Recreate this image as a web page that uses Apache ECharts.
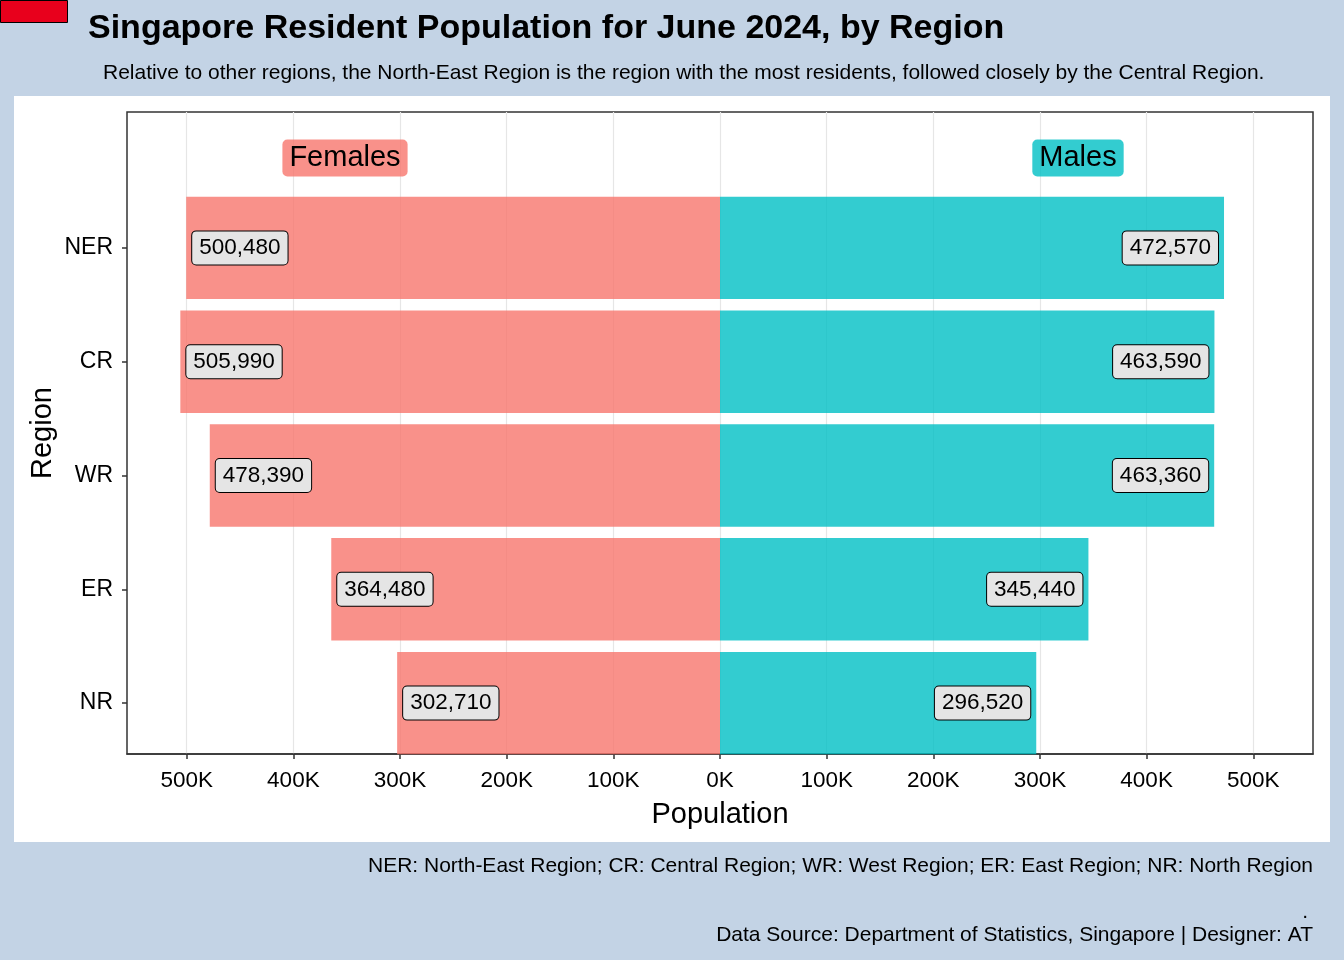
<!DOCTYPE html>
<html>
<head>
<meta charset="utf-8">
<title>Singapore Resident Population for June 2024, by Region</title>
<script src="https://cdn.jsdelivr.net/npm/echarts@6/dist/echarts.min.js"></script>
<style>
  html, body { margin: 0; padding: 0; background: #C3D3E5; }
  #chart { width: 1344px; height: 960px; }
</style>
</head>
<body>
<div id="chart"></div>
<script>
  // data
  var regions = ['NER', 'CR', 'WR', 'ER', 'NR'];
  var females = [500480, 505990, 478390, 364480, 302710];
  var males = [472570, 463590, 463360, 345440, 296520];
  var tickValues = [-500000, -400000, -300000, -200000, -100000, 0, 100000, 200000, 300000, 400000, 500000];

  var FONT = '"Liberation Sans", Arial, sans-serif';
  var femaleColor = 'rgba(248,118,109,0.8)';
  var maleColor = 'rgba(0,191,196,0.8)';

  function fmtK(v) {
    return Math.abs(v) / 1000 + 'K';
  }
  function fmtNum(v) {
    return Math.abs(v).toLocaleString('en-US');
  }

  var labelBox = {
    show: true,
    fontSize: 22.5,
    fontFamily: FONT,
    color: '#000',
    backgroundColor: '#E5E5E5',
    borderColor: '#000',
    borderWidth: 1,
    borderRadius: 4,
    padding: [6, 7, 4, 7],
    distance: 6
  };

  var chart = echarts.init(document.getElementById('chart'));
  chart.setOption({
    backgroundColor: '#C3D3E5',
    textStyle: { fontFamily: FONT },
    animation: false,
    title: [
      {
        text: 'Singapore Resident Population for June 2024, by Region',
        left: 83,
        top: 7,
        textStyle: { fontSize: 34, fontWeight: 'bold', color: '#000', fontFamily: FONT }
      },
      {
        text: 'Relative to other regions, the North-East Region is the region with the most residents, followed closely by the Central Region.',
        left: 98,
        top: 58,
        textStyle: { fontSize: 21, fontWeight: 'normal', color: '#000', fontFamily: FONT }
      }
    ],
    graphic: [
      { type: 'rect', z: -100, shape: { x: 14, y: 96, width: 1316, height: 746 }, style: { fill: '#fff' } },
      { type: 'rect', shape: { x: 0.5, y: 0.5, width: 67, height: 22 }, style: { fill: '#E8001C', stroke: '#000', lineWidth: 1 } },
      {
        type: 'text', x: 345, y: 158, z: 10,
        style: {
          text: 'Females', fontSize: 29, fontFamily: FONT, fill: '#000',
          align: 'center', verticalAlign: 'middle',
          backgroundColor: femaleColor, borderRadius: 5, padding: [5, 7, 3, 7]
        }
      },
      {
        type: 'text', x: 1078, y: 158, z: 10,
        style: {
          text: 'Males', fontSize: 29, fontFamily: FONT, fill: '#000',
          align: 'center', verticalAlign: 'middle',
          backgroundColor: maleColor, borderRadius: 5, padding: [5, 7, 3, 7]
        }
      },
      {
        type: 'text', x: 1313, y: 866,
        style: {
          text: 'NER: North-East Region; CR: Central Region; WR: West Region; ER: East Region; NR: North Region',
          fontSize: 21, fontFamily: FONT, fill: '#000', align: 'right', verticalAlign: 'middle'
        }
      },
      {
        type: 'text', x: 1308, y: 912,
        style: { text: '.', fontSize: 21, fontFamily: FONT, fill: '#000', align: 'right', verticalAlign: 'middle' }
      },
      {
        type: 'text', x: 1313, y: 935,
        style: {
          text: 'Data Source: Department of Statistics, Singapore | Designer: AT',
          fontSize: 21, fontFamily: FONT, fill: '#000', align: 'right', verticalAlign: 'middle'
        }
      }
    ],
    grid: [
      // frame, x axis and gridlines
      { left: 127, right: 31, top: 112, bottom: 206, show: true, borderColor: '#333', borderWidth: 1.5, backgroundColor: 'transparent' },
      // bars
      { left: 127, right: 31, top: 191, bottom: 200 }
    ],
    xAxis: [
      {
        gridIndex: 0,
        type: 'value',
        min: -556000,
        max: 556000,
        z: 0,
        name: 'Population',
        nameLocation: 'middle',
        nameGap: 46,
        nameTextStyle: { fontSize: 29, color: '#000' },
        axisLine: { show: true, lineStyle: { color: '#333', width: 1.5 } },
        axisTick: { show: true, length: 5, customValues: tickValues, lineStyle: { color: '#333', width: 1.5 } },
        axisLabel: { customValues: tickValues, formatter: fmtK, fontSize: 22.5, color: '#000', margin: 15 },
        splitLine: { show: true, lineStyle: { color: '#E6E6E6', width: 1.2 } }
      },
      {
        gridIndex: 1,
        type: 'value',
        min: -556000,
        max: 556000,
        show: false
      }
    ],
    yAxis: [
      {
        gridIndex: 0,
        type: 'value',
        min: 0,
        max: 1,
        name: 'Region',
        nameLocation: 'middle',
        nameGap: 70,
        nameRotate: 90,
        nameTextStyle: { fontSize: 29, color: '#000' },
        axisLine: { show: false },
        axisTick: { show: false },
        axisLabel: { show: false },
        splitLine: { show: false }
      },
      {
        gridIndex: 1,
        type: 'category',
        data: regions,
        inverse: true,
        axisLine: { show: false, onZero: false },
        axisTick: { show: true, length: 5, alignWithLabel: true, lineStyle: { color: '#333', width: 1.5 } },
        axisLabel: { fontSize: 23, color: '#000', margin: 14 },
        splitLine: { show: false }
      }
    ],
    series: [
      {
        name: 'Females',
        type: 'bar',
        xAxisIndex: 1,
        yAxisIndex: 1,
        barWidth: '90%',
        barGap: '-100%',
        itemStyle: { color: femaleColor },
        label: Object.assign({ position: 'insideLeft', formatter: function (p) { return fmtNum(p.value); } }, labelBox),
        data: females.map(function (v) { return -v; })
      },
      {
        name: 'Males',
        type: 'bar',
        xAxisIndex: 1,
        yAxisIndex: 1,
        barWidth: '90%',
        barGap: '-100%',
        itemStyle: { color: maleColor },
        label: Object.assign({ position: 'insideRight', formatter: function (p) { return fmtNum(p.value); } }, labelBox),
        data: males
      }
    ]
  });
</script>
</body>
</html>
